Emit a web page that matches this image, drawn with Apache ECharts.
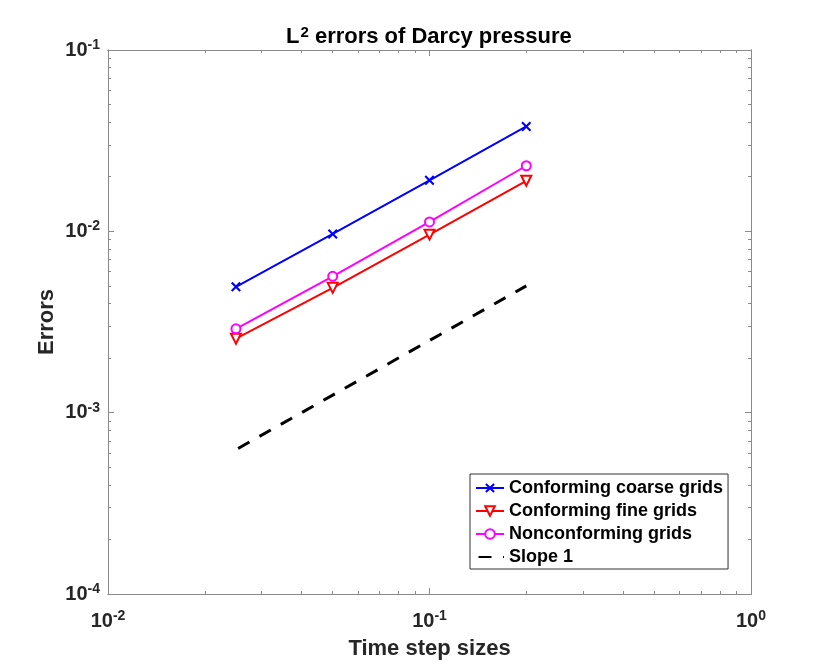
<!DOCTYPE html>
<html>
<head>
<meta charset="utf-8">
<title>L2 errors of Darcy pressure</title>
<script src="https://cdn.jsdelivr.net/npm/echarts@6/dist/echarts.min.js"></script>
<style>
	html, body { margin: 0; padding: 0; background: #ffffff; }
	#chart { width: 830px; height: 669px; }
</style>
</head>
<body>
<div id="chart"></div>
<script>
	// data
	var stepSizes = [0.025, 0.05, 0.1, 0.2];
	var coarseErrors = [0.00494, 0.00968, 0.0191, 0.0379];
	var fineErrors = [0.00256, 0.00488, 0.00959, 0.0190];
	var nonconfErrors = [0.00290, 0.00565, 0.01127, 0.0230];
	var slopeOne = [0.000625, 0.00125, 0.0025, 0.005];
	var seriesNames = ['Conforming coarse grids', 'Conforming fine grids', 'Nonconforming grids', 'Slope 1'];

	// tick positions (decades + 2..9 within each decade)
	var xMajorTicks = [0.01, 0.1, 1];
	var yMajorTicks = [0.0001, 0.001, 0.01, 0.1];
	var minorSteps = [2, 3, 4, 5, 6, 7, 8, 9];

	function minorOf(majors) {
		var out = [];
		for (var i = 0; i < majors.length - 1; i++) {
			minorSteps.forEach(function(m) { out.push(majors[i] * m); });
		}
		return out;
	}

	function pairs(ys) {
		return stepSizes.map(function(x, i) { return [x, ys[i]]; });
	}

	var FONT = 'Liberation Sans, Arial, Helvetica, sans-serif';
	var TEXT = '#262626';
	var AXIS = '#8a8a8a';

	var powRich = {
		b: { fontFamily: FONT, fontSize: 20, fontWeight: 'bold', color: TEXT },
		s: { fontFamily: FONT, fontSize: 14, fontWeight: 'bold', color: TEXT, padding: [0, 0, 10, 0] }
	};

	function powLabel(v) {
		return '{b|10}{s|' + Math.round(Math.log10(v)) + '}';
	}

	// one log axis (major or minor ticks) for a given side
	function logAxis(pos, range, ticks, len, opts) {
		var ax = {
			type: 'log',
			logBase: 10,
			position: pos,
			min: range[0],
			max: range[range.length - 1],
			axisLine: { show: true, lineStyle: { color: AXIS, width: 1 } },
			axisTick: { show: true, inside: true, length: len, customValues: ticks, lineStyle: { color: AXIS, width: 1 } },
			axisLabel: { show: false },
			splitLine: { show: false },
			minorTick: { show: false },
			minorSplitLine: { show: false }
		};
		if (opts) {
			for (var k in opts) ax[k] = opts[k];
		}
		return ax;
	}

	var chart = echarts.init(document.getElementById('chart'), null, { renderer: 'canvas' });

	var option = {
		backgroundColor: '#ffffff',
		animation: false,
		title: {
			text: '{t|L}{s|2}{t| errors of Darcy pressure}',
			left: 281,
			top: 20,
			textStyle: {
				rich: {
					t: { fontFamily: FONT, fontSize: 22, fontWeight: 'bold', color: '#000' },
					s: { fontFamily: FONT, fontSize: 15, fontWeight: 'bold', color: '#000', padding: [0, 0, 9, 1] }
				}
			}
		},
		grid: {
			left: 108,
			right: 79,
			top: 50,
			bottom: 75,
			containLabel: false,
			outerBoundsMode: 'none'
		},
		legend: {
			orient: 'vertical',
			left: 470,
			top: 474,
			padding: [5, 5, 3, 5],
			itemWidth: 28,
			itemHeight: 12,
			itemGap: 5,
			backgroundColor: '#ffffff',
			borderColor: '#333333',
			borderWidth: 1,
			borderRadius: 0,
			textStyle: { fontFamily: FONT, fontSize: 18, fontWeight: 'bold', color: '#000', lineHeight: 17 },
			data: [
				seriesNames[0],
				seriesNames[1],
				seriesNames[2],
				{ name: seriesNames[3], itemStyle: { opacity: 0 } }
			]
		},
		xAxis: [
			logAxis('bottom', xMajorTicks, xMajorTicks, 6, {
				axisLabel: {
					show: true, customValues: xMajorTicks, margin: 15,
					formatter: powLabel, rich: powRich
				},
				name: 'Time step sizes',
				nameLocation: 'middle',
				nameGap: 44,
				nameMoveOverlap: false,
				nameTextStyle: { fontFamily: FONT, fontSize: 22, fontWeight: 'bold', color: TEXT }
			}),
			logAxis('bottom', xMajorTicks, minorOf(xMajorTicks), 3),
			logAxis('top', xMajorTicks, xMajorTicks, 6),
			logAxis('top', xMajorTicks, minorOf(xMajorTicks), 3)
		],
		yAxis: [
			logAxis('left', yMajorTicks, yMajorTicks, 6, {
				axisLabel: {
					show: true, customValues: yMajorTicks, margin: 8,
					formatter: powLabel, rich: powRich
				},
				name: 'Errors',
				nameLocation: 'middle',
				nameGap: 61,
				nameMoveOverlap: false,
				nameRotate: 90,
				nameTextStyle: { fontFamily: FONT, fontSize: 22, fontWeight: 'bold', color: TEXT, verticalAlign: 'middle' }
			}),
			logAxis('left', yMajorTicks, minorOf(yMajorTicks), 3),
			logAxis('right', yMajorTicks, yMajorTicks, 6),
			logAxis('right', yMajorTicks, minorOf(yMajorTicks), 3)
		],
		series: [
			{
				name: seriesNames[0],
				type: 'line',
				data: pairs(coarseErrors),
				symbol: 'path://M0,1.5 L1.5,0 L5,3.5 L8.5,0 L10,1.5 L6.5,5 L10,8.5 L8.5,10 L5,6.5 L1.5,10 L0,8.5 L3.5,5 Z',
				symbolSize: 10,
				lineStyle: { color: '#0000ff', width: 2 },
				itemStyle: { color: '#0000ff' }
			},
			{
				name: seriesNames[1],
				type: 'line',
				data: pairs(fineErrors),
				symbol: 'emptyTriangle',
				symbolRotate: 180,
				symbolSize: 10,
				lineStyle: { color: '#ff0000', width: 2 },
				itemStyle: { color: '#ff0000', borderWidth: 1.5 }
			},
			{
				name: seriesNames[2],
				type: 'line',
				data: pairs(nonconfErrors),
				symbol: 'emptyCircle',
				symbolSize: 9,
				lineStyle: { color: '#ff00ff', width: 2 },
				itemStyle: { color: '#ff00ff', borderWidth: 1.5 }
			},
			{
				name: seriesNames[3],
				type: 'line',
				data: pairs(slopeOne),
				symbol: 'circle',
				showSymbol: false,
				lineStyle: { color: '#000000', width: 3, type: [13, 11.5], dashOffset: 22 },
				itemStyle: { color: '#000000' }
			}
		]
	};

	chart.setOption(option);
</script>
</body>
</html>
